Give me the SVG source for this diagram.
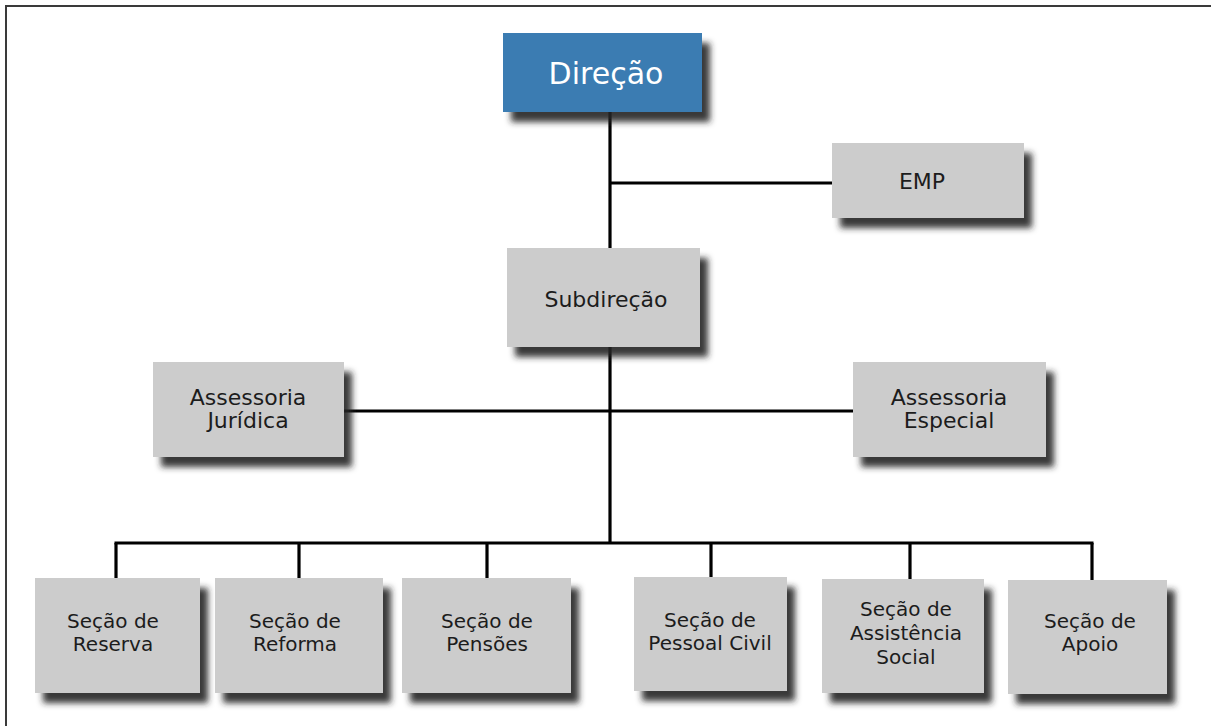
<svg xmlns="http://www.w3.org/2000/svg" width="1211" height="726" viewBox="0 0 1211 726">
<defs>
<filter id="sh" x="-10%" y="-10%" width="130%" height="140%">
<feGaussianBlur in="SourceAlpha" stdDeviation="3"/>
<feOffset dx="8" dy="10" result="b"/>
<feFlood flood-color="#262626" flood-opacity="0.9"/>
<feComposite in2="b" operator="in"/>
<feMerge><feMergeNode/><feMergeNode in="SourceGraphic"/></feMerge>
</filter>
<style>
.box{fill:#cccccc;filter:url(#sh)}
.top{fill:#3b7cb2;filter:url(#sh)}
.t{font-family:"DejaVu Sans","Liberation Sans",sans-serif;fill:#1c1c1c;text-anchor:middle}
.m{font-size:22px}
.s{font-size:20px}
.w{font-family:"DejaVu Sans","Liberation Sans",sans-serif;fill:#ffffff;text-anchor:middle;font-size:30px}
.ln{stroke:#000;stroke-width:3.2;fill:none}
</style>
</defs>
<rect width="1211" height="726" fill="#ffffff"/>
<path d="M6 726 V6 H1211" stroke="#3a3a3a" stroke-width="2" fill="none"/>
<g id="connectors" class="ln">
<line x1="610" y1="112" x2="610" y2="248"/>
<line x1="610" y1="183" x2="832" y2="183"/>
<line x1="610" y1="347" x2="610" y2="543"/>
<line x1="344" y1="411" x2="853" y2="411"/>
<line x1="114.5" y1="543" x2="1093.5" y2="543"/>
<line x1="116" y1="543" x2="116" y2="578"/>
<line x1="299" y1="543" x2="299" y2="578"/>
<line x1="487" y1="543" x2="487" y2="578"/>
<line x1="711" y1="543" x2="711" y2="577"/>
<line x1="910" y1="543" x2="910" y2="579"/>
<line x1="1092" y1="543" x2="1092" y2="580"/>
</g>
<g id="direcao"><rect class="top" x="503" y="33" width="199" height="79"/><text class="w" x="606" y="84">Direção</text></g>
<g id="emp"><rect class="box" x="832" y="143" width="192" height="75"/><text class="t m" x="922" y="189">EMP</text></g>
<g id="subdirecao"><rect class="box" x="507" y="248" width="193" height="99"/><text class="t m" x="606" y="307">Subdireção</text></g>
<g id="assessoria-juridica"><rect class="box" x="153" y="362" width="191" height="95"/><text class="t m" x="248" y="405">Assessoria</text><text class="t m" x="248" y="428">Jurídica</text></g>
<g id="assessoria-especial"><rect class="box" x="853" y="362" width="193" height="95"/><text class="t m" x="949" y="405">Assessoria</text><text class="t m" x="949" y="428">Especial</text></g>
<g id="secao-reserva"><rect class="box" x="35" y="578" width="165" height="115"/><text class="t s" x="113" y="628">Seção de</text><text class="t s" x="113" y="651">Reserva</text></g>
<g id="secao-reforma"><rect class="box" x="215" y="578" width="168" height="115"/><text class="t s" x="295" y="628">Seção de</text><text class="t s" x="295" y="651">Reforma</text></g>
<g id="secao-pensoes"><rect class="box" x="402" y="578" width="169" height="115"/><text class="t s" x="487" y="628">Seção de</text><text class="t s" x="487" y="651">Pensões</text></g>
<g id="secao-pessoal-civil"><rect class="box" x="634" y="577" width="153" height="114"/><text class="t s" x="710" y="627">Seção de</text><text class="t s" x="710" y="650">Pessoal Civil</text></g>
<g id="secao-assistencia-social"><rect class="box" x="822" y="579" width="162" height="114"/><text class="t s" x="906" y="616">Seção de</text><text class="t s" x="906" y="640">Assistência</text><text class="t s" x="906" y="664">Social</text></g>
<g id="secao-apoio"><rect class="box" x="1008" y="580" width="159" height="114"/><text class="t s" x="1090" y="628">Seção de</text><text class="t s" x="1090" y="651">Apoio</text></g>
</svg>
